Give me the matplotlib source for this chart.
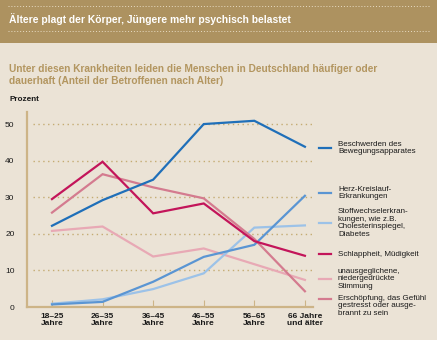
import matplotlib
matplotlib.use("Agg")
import matplotlib.pyplot as plt
from matplotlib.lines import Line2D

plt.rcParams["font.family"] = ["Liberation Sans", "DejaVu Sans"]

ages = ["18\u201325\nJahre", "26\u201335\nJahre", "36\u201345\nJahre",
        "46\u201355\nJahre", "56\u201365\nJahre", "66 Jahre\nund älter"]

bewegung = [22.2, 29.2, 34.8, 50.0, 50.9, 43.8]
herz = [0.7, 1.4, 6.9, 13.7, 17.0, 30.4]
stoffwechsel = [0.9, 2.1, 4.9, 9.2, 21.7, 22.3]
schlappheit = [29.5, 39.7, 25.6, 28.3, 18.0, 14.0]
stimmung = [20.8, 22.0, 13.8, 16.0, 11.7, 7.4]
erschoepfung = [25.8, 36.3, 32.7, 29.7, 18.6, 4.3]

labels = ["Beschwerden des\nBewegungsapparates",
          "Herz-Kreislauf-\nErkrankungen",
          "Stoffwechselerkran-\nkungen, wie z.B.\nCholesterinspiegel,\nDiabetes",
          "Schlappheit, Müdigkeit",
          "unausgeglichene,\nniedergedrückte\nStimmung",
          "Erschöpfung, das Gefühl\ngestresst oder ausge-\nbrannt zu sein"]
legend_y = [148, 193, 223, 254, 279, 299]

colors = {"bewegung": "#1f6fb9", "herz": "#5a95d3", "stoff": "#9cc2e8",
          "schlapp": "#c3155a", "stimmung": "#e8a9b5", "ersch": "#d47b8f"}

W, H = 437, 340
bg = "#ebe3d6"
tan = "#ad9260"
grid_c = "#c4ab72"

fig = plt.figure(figsize=(W / 100, H / 100), dpi=100, facecolor=bg)

# header band
fig.patches.append(plt.Rectangle((0, 1 - 43 / H), 1, 43 / H, transform=fig.transFigure,
                                 facecolor=tan, edgecolor="none"))
for yy in [6, 31]:
    fig.add_artist(Line2D([8 / W, 430 / W], [1 - yy / H] * 2, transform=fig.transFigure,
                          color="#e8dcc4", lw=0.7, ls=(0, (1, 2))))
fig.text(9 / W, 1 - 19.5 / H, "Ältere plagt der Körper, Jüngere mehr psychisch belastet",
         color="white", fontsize=7.4, fontweight="bold", va="center")
fig.text(9 / W, 1 - 68.5 / H,
         "Unter diesen Krankheiten leiden die Menschen in Deutschland häufiger oder",
         color="#b39660", fontsize=7.3, fontweight="bold", va="center")
fig.text(9 / W, 1 - 80.5 / H, "dauerhaft (Anteil der Betroffenen nach Alter)",
         color="#b39660", fontsize=7.3, fontweight="bold", va="center")
fig.text(9 / W, 1 - 99 / H, "Prozent", color="#1a1a1a", fontsize=5.9, fontweight="bold", va="center")

ax = fig.add_axes([27 / W, 1 - 307 / H, 286 / W, 195 / H])
ax.set_facecolor(bg)
ax.set_xlim(-0.494, 5.16)
ax.set_ylim(0, 53.3)

for yv in [10, 20, 30, 40, 50]:
    ax.axhline(yv, xmin=0.02, xmax=1, color=grid_c, lw=1.0, ls=(0, (1, 2.5)), zorder=0)

x = list(range(len(ages)))
series = [(stimmung, colors["stimmung"]), (stoffwechsel, colors["stoff"]),
          (herz, colors["herz"]), (erschoepfung, colors["ersch"]),
          (schlappheit, colors["schlapp"]), (bewegung, colors["bewegung"])]
for vals, c in series:
    ax.plot(x, vals, color=c, lw=1.6, solid_joinstyle="miter", zorder=3)

for s in ["top", "right"]:
    ax.spines[s].set_visible(False)
for s in ["left", "bottom"]:
    ax.spines[s].set_color("#cdb487")
    ax.spines[s].set_linewidth(1.6)

ax.set_yticks([0, 10, 20, 30, 40, 50])
ax.tick_params(axis="y", length=0, pad=9, labelsize=6.0, labelcolor="#1a1a1a")
ax.set_xticks(x)
ax.set_xticklabels(ages, fontsize=6.0, fontweight="bold", color="#1a1a1a", linespacing=1.05)
ax.tick_params(axis="x", direction="in", length=5, width=0.8, color="#cdb487", pad=4)

leg_colors = [colors["bewegung"], colors["herz"], colors["stoff"],
              colors["schlapp"], colors["stimmung"], colors["ersch"]]
for i, (lab, yy, c) in enumerate(zip(labels, legend_y, leg_colors)):
    fig.add_artist(Line2D([319 / W, 331 / W], [1 - yy / H] * 2, transform=fig.transFigure,
                          color=c, lw=1.6))
    if i == len(labels) - 1:
        # last entry: line sits at the first text line
        fig.text(338 / W, 1 - (yy - 4.5) / H, lab, fontsize=5.8, color="#1a1a1a", va="top",
                 linespacing=1.15)
    else:
        fig.text(338 / W, 1 - yy / H, lab, fontsize=5.8, color="#1a1a1a", va="center",
                 linespacing=1.15)

fig.savefig("out.png", dpi=100, facecolor=bg)
